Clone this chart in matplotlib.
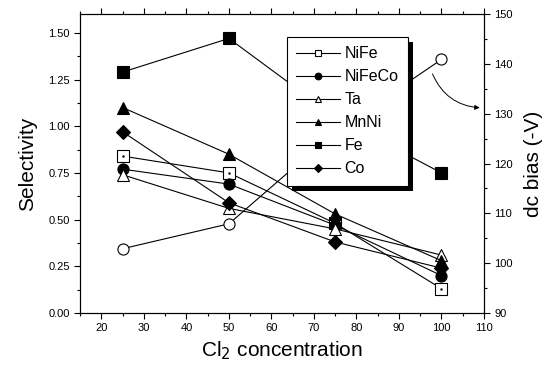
import matplotlib
matplotlib.use("Agg")
import matplotlib.pyplot as plt
from matplotlib.ticker import MultipleLocator
from matplotlib.patches import Rectangle

plt.rcParams['font.family'] = ['Liberation Sans', 'DejaVu Sans']

cl2 = [25, 50, 75, 100]
nife = [0.84, 0.75, 0.48, 0.13]
nifeco = [0.77, 0.69, 0.47, 0.20]
ta = [0.74, 0.56, 0.45, 0.31]
mnni = [1.10, 0.85, 0.53, 0.28]
fe = [1.29, 1.47, 1.05, 0.75]
co = [0.97, 0.59, 0.38, 0.24]
dc_bias = [102.9, 107.9, 126.4, 140.9]

fig = plt.figure(figsize=(5.45, 3.73), dpi=100)
ax = fig.add_axes([0.147, 0.161, 0.741, 0.801])
ax2 = ax.twinx()

ms = 8
lw = 0.8
series = [
    ("NiFe", nife, dict(marker='s', mfc='white', mec='black')),
    ("NiFeCo", nifeco, dict(marker='o', mfc='black', mec='black')),
    ("Ta", ta, dict(marker='^', mfc='white', mec='black')),
    ("MnNi", mnni, dict(marker='^', mfc='black', mec='black')),
    ("Fe", fe, dict(marker='s', mfc='black', mec='black')),
    ("Co", co, dict(marker='D', mfc='black', mec='black', ms=7)),
]
handles = []
for name, vals, style in series:
    kw = dict(color='black', lw=lw, ms=ms, mew=0.8)
    kw.update(style)
    h, = ax.plot(cl2, vals, label=name, **kw)
    handles.append(h)
ax.plot(cl2, nife, ls='none', marker='.', ms=1.5, color='black')

ax2.plot(cl2, dc_bias, color='black', lw=lw, marker='o', ms=ms, mfc='white', mec='black', mew=0.8)

ax.set_xlim(15, 110)
ax.set_ylim(0, 1.6)
ax2.set_ylim(90, 150)

ax.xaxis.set_major_locator(MultipleLocator(10))
ax.xaxis.set_minor_locator(MultipleLocator(5))
ax.set_xticks(range(20, 111, 10))
ax.yaxis.set_major_locator(MultipleLocator(0.25))
ax.yaxis.set_minor_locator(MultipleLocator(0.125))
ax.set_yticks([0, 0.25, 0.5, 0.75, 1.0, 1.25, 1.5])
ax.set_yticklabels(['0.00', '0.25', '0.50', '0.75', '1.00', '1.25', '1.50'])
ax2.yaxis.set_major_locator(MultipleLocator(10))
ax2.yaxis.set_minor_locator(MultipleLocator(5))

ax.tick_params(which='both', direction='out', labelsize=8, top=True, width=0.8)
ax.tick_params(which='major', length=4)
ax.tick_params(which='minor', length=2.5)
ax2.tick_params(which='both', direction='out', labelsize=8, width=0.8)
ax2.tick_params(which='major', length=4)
ax2.tick_params(which='minor', length=2.5)
for a in (ax, ax2):
    for s in a.spines.values():
        s.set_linewidth(0.8)

ax.set_ylabel('Selectivity', fontsize=15, labelpad=8)
ax.set_xlabel('Cl$_2$ concentration', fontsize=15, labelpad=4)
ax2.set_ylabel('dc bias (-V)', fontsize=15, labelpad=8)

ax2.annotate('', xy=(109.0, 131.2), xytext=(97.9, 138.0),
             arrowprops=dict(arrowstyle='-|>', color='black', lw=0.7,
                             mutation_scale=7, shrinkA=0, shrinkB=0,
                             connectionstyle='arc3,rad=0.3'))

leg = ax2.legend(handles=handles, loc='upper left', bbox_to_anchor=(0.512, 0.925),
                 fontsize=11.5, frameon=True, fancybox=False, edgecolor='black',
                 framealpha=1, handlelength=2.7, markerscale=0.6,
                 labelspacing=0.5, borderpad=0.6, handletextpad=0.3,
                 borderaxespad=0)
leg.get_frame().set_linewidth(0.8)
leg.set_zorder(6)

fig.canvas.draw()
bb = leg.get_window_extent()
off = 5
shadow = Rectangle((bb.x0 + off, bb.y0 - off), bb.width, bb.height,
                   transform=None, facecolor='black', edgecolor='none', zorder=5)
ax2.add_artist(shadow)

fig.savefig('out.png', dpi=100)
